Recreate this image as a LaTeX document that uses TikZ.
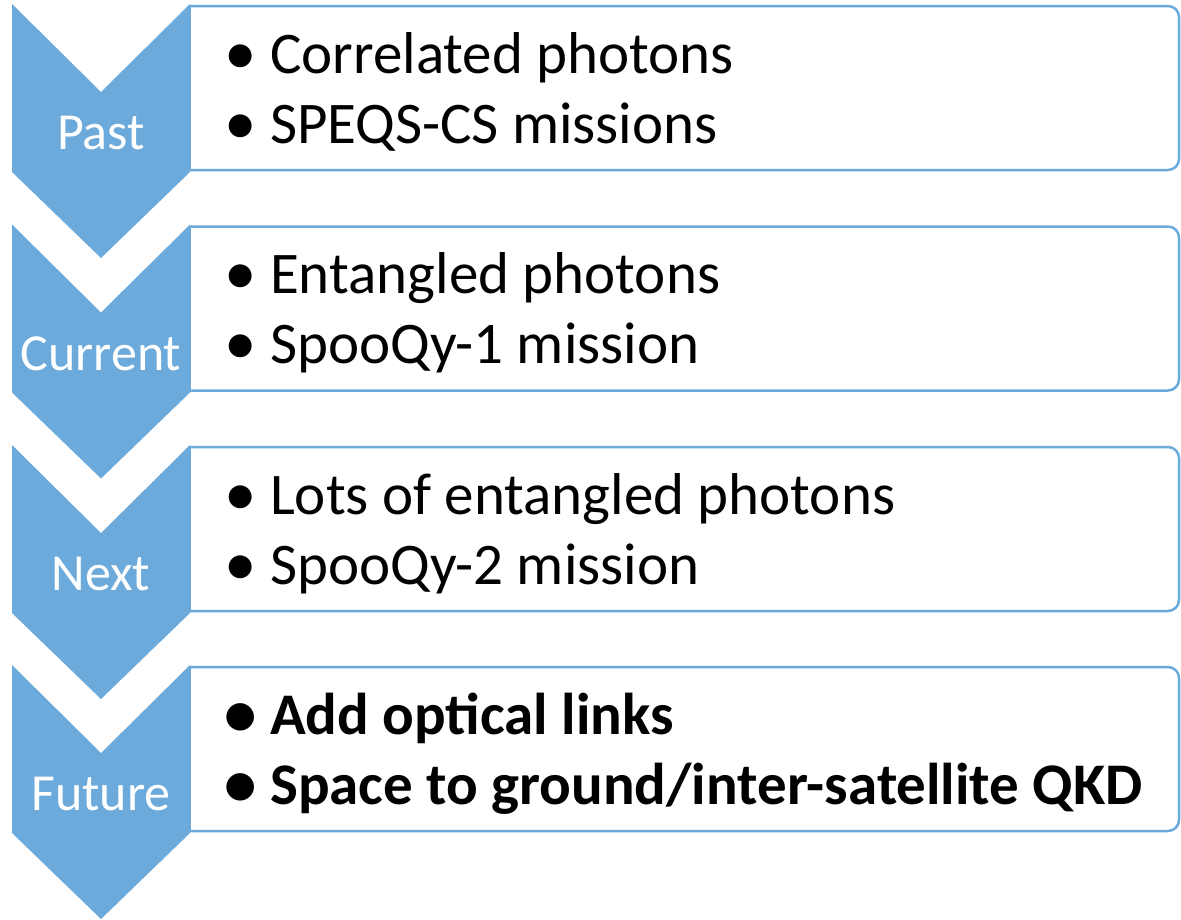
\documentclass[tikz,border=0pt]{standalone}
\usepackage{fontspec}
\usepackage{graphicx}
\setmainfont{Carlito}
\definecolor{chev}{HTML}{6CAADC}
\begin{document}
\begin{tikzpicture}[x=1pt,y=-1pt,
  chevshape/.style={fill=chev,draw=none},
  itembox/.style={draw=chev,line width=2.5pt,fill=white},
  lbl/.style={text=white,inner sep=0pt,font=\fontsize{52}{60}\selectfont},
  item/.style={anchor=base west,inner sep=0pt,font=\fontsize{59}{70}\selectfont},
  bitem/.style={item,font=\fontsize{59}{70}\selectfont\bfseries}]
\useasboundingbox (0,0) rectangle (1181,919);
\newcommand{\bul}{\makebox[46pt][l]{\raisebox{-1pt}{\scalebox{1.1}{•}}}}
\newcommand{\stage}[6]{%
  % #1 top y, #2 name, #3 label, #4 line1, #5 line2, #6 style
  \draw[itembox,rounded corners=11pt] (190,#1+2) -- (1179,#1+2) -- (1179,#1+166) -- (190,#1+166);
  \draw[itembox] (190,#1+166) -- (190,#1+2);
  \fill[chevshape] (12,#1) -- (101,#1+88) -- (190,#1) -- (190,#1+168) -- (101,#1+254) -- (12,#1+168) -- cycle;
  \node[lbl] (#2) at (101,#1+129) {#3};
  \node[#6] (#2a) at (224,#1+69) {\bul#4};
  \node[#6] (#2b) at (224,#1+139) {\bul#5};
}
\stage{4}{past}{Past}{Correlated photons}{SPEQS-CS missions}{item}
\stage{224.5}{cur}{Current}{Entangled photons}{SpooQy-1 mission}{item}
\stage{445}{next}{Next}{Lots of entangled photons}{SpooQy-2 mission}{item}
\stage{665}{fut}{Future}{Add optical links}{Space to ground/inter-satellite QKD}{bitem}
\end{tikzpicture}
\end{document}
